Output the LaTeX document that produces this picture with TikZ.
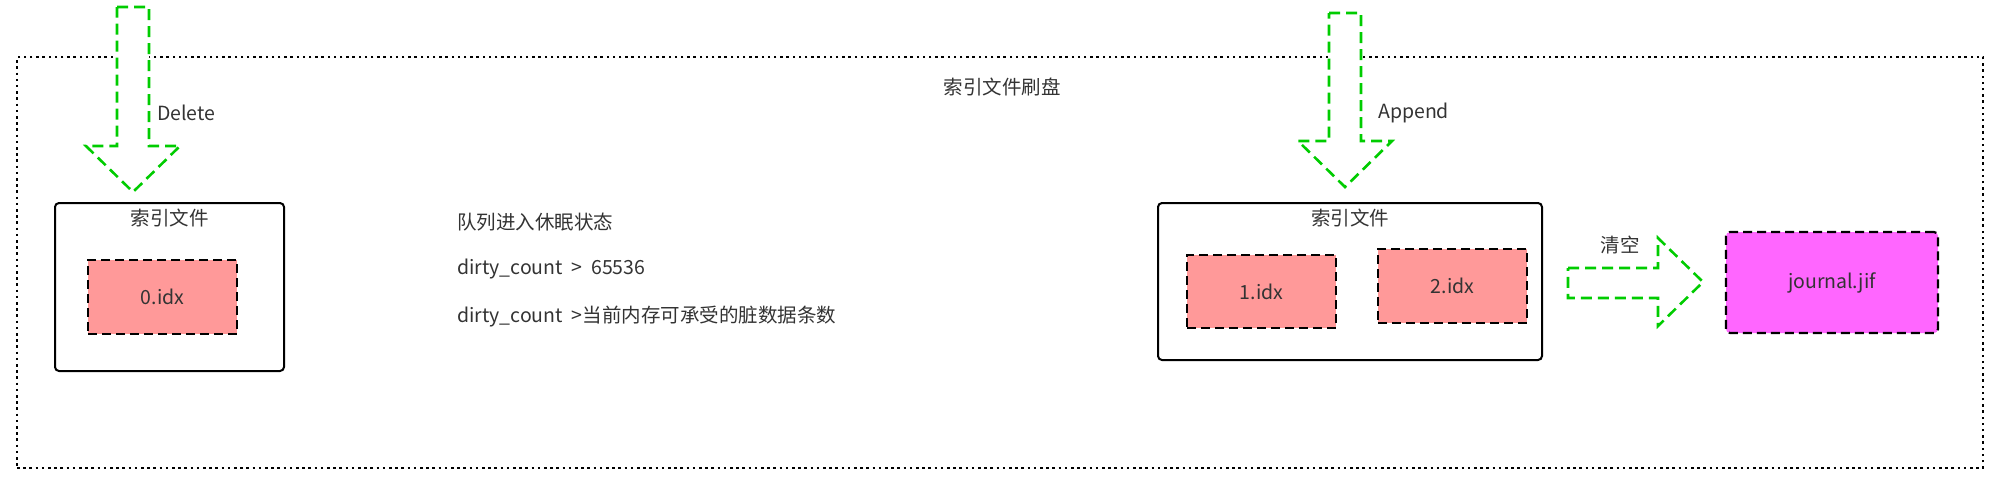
\documentclass[tikz,border=0pt]{standalone}
\usepackage{fontspec}
\setmainfont{Noto Sans CJK SC}
\usetikzlibrary{positioning}
\definecolor{txt}{HTML}{333333}
\definecolor{arrgreen}{HTML}{00CC00}
\definecolor{pinkfill}{HTML}{FF9999}
\definecolor{magfill}{HTML}{FF66FF}
\tikzset{
  lbl/.style={text=txt, font=\fontsize{19.5}{22}\selectfont, inner sep=0pt},
  outerbox/.style={draw=black, line width=2.5pt, dash pattern=on 2.5pt off 3.7pt, inner sep=0pt},
  filebox/.style={draw=black, line width=2pt, rounded corners=4pt, inner sep=0pt},
  idxbox/.style={draw=black, fill=pinkfill, line width=2.2pt, dash pattern=on 9pt off 5pt, inner sep=0pt, text=txt, font=\fontsize{19.5}{22}\selectfont},
  jifbox/.style={draw=black, fill=magfill, line width=2.2pt, dash pattern=on 9pt off 5pt, rounded corners=4pt, inner sep=0pt, text=txt, font=\fontsize{19.5}{22}\selectfont},
  greenarrow/.style={draw=arrgreen, fill=white, line width=2.6pt, dash pattern=on 11pt off 6pt},
}
\begin{document}
\begin{tikzpicture}[x=1pt,y=-1pt]
\useasboundingbox (0,0) rectangle (2004,488);
% outer dotted frame
\node[outerbox, minimum width=1966pt, minimum height=411pt] (frame) at (1000,262.5) {};
\node[lbl] (title) at (1002,87) {索引文件刷盘};
% Delete arrow
\draw[greenarrow] (117,7) -- (149,7) -- (149,146) -- (180,146) -- (133,192) -- (86,146) -- (117,146) -- cycle;
\node[lbl, anchor=west] (del) at (157,113) {Delete};
% left file box
\node[filebox, minimum width=229pt, minimum height=168pt] (lbox) at (169.5,287) {};
\node[lbl] (llab) at (169.5,218) {索引文件};
\node[idxbox, minimum width=149pt, minimum height=74pt] (i0) at (162.5,297) {0.idx};
% middle texts
\node[lbl, anchor=west] (t1) at (457,222) {队列进入休眠状态};
\node[lbl, anchor=west] (t2) at (457,269) {dirty\_count \ > \ 65536};
\node[lbl, anchor=west] (t3) at (457,317) {dirty\_count \ >当前内存可承受的脏数据条数};
% Append arrow
\draw[greenarrow] (1329,13) -- (1361,13) -- (1361,141) -- (1392,141) -- (1345,187) -- (1298,141) -- (1329,141) -- cycle;
\node[lbl, anchor=west] (app) at (1378,113) {Append};
% right file box
\node[filebox, minimum width=384pt, minimum height=157pt] (rbox) at (1350,281.5) {};
\node[lbl] (rlab) at (1350,218) {索引文件};
\node[idxbox, minimum width=149pt, minimum height=73pt] (i1) at (1261.5,291.5) {1.idx};
\node[idxbox, minimum width=149pt, minimum height=74pt] (i2) at (1452.5,286) {2.idx};
% clear arrow
\draw[greenarrow] (1568,268) -- (1658,268) -- (1658,238) -- (1703,282) -- (1658,326) -- (1658,298) -- (1568,298) -- cycle;
\node[lbl] (clr) at (1620,245) {清空};
% journal
\node[jifbox, minimum width=212pt, minimum height=101pt] (jif) at (1832,282.5) {journal.jif};
\end{tikzpicture}
\end{document}
